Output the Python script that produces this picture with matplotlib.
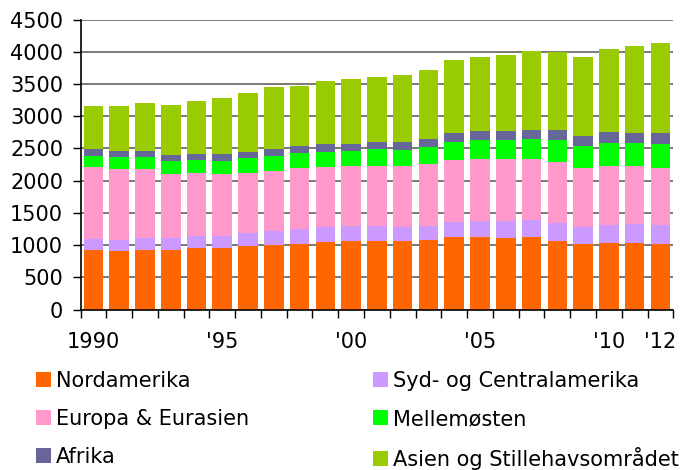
import matplotlib
matplotlib.use("Agg")
import matplotlib.pyplot as plt
from matplotlib.patches import Patch
import numpy as np

plt.rcParams['font.family'] = ['DejaVu Sans']

years = list(range(1990, 2013))
year_labels = ['1990', '', '', '', '', "'95", '', '', '', '', "'00", '', '', '', '', "'05",
               '', '', '', '', "'10", '', "'12"]

series_names = ['Nordamerika', 'Syd- og Centralamerika', 'Europa & Eurasien',
                'Mellemøsten', 'Afrika', 'Asien og Stillehavsområdet']

nordamerika = [921, 906, 921, 921, 952, 952, 983, 999, 1014, 1045, 1061, 1061, 1061,
               1076, 1123, 1123, 1107, 1123, 1061, 1014, 1030, 1030, 1014]
syd_central = [171, 176, 192, 192, 192, 192, 202, 217, 233, 233, 233, 233, 217,
               218, 238, 248, 264, 264, 279, 264, 279, 295, 295]
europa = [1118, 1097, 1066, 993, 973, 962, 932, 932, 947, 932, 931, 931, 947,
          962, 957, 963, 963, 947, 947, 916, 916, 900, 885]
mellemosten = [171, 186, 186, 197, 201, 197, 232, 233, 233, 233, 233, 264, 249,
               264, 280, 295, 295, 310, 342, 342, 357, 357, 373]
afrika = [108, 93, 93, 93, 94, 109, 94, 108, 109, 124, 109, 109, 124,
          124, 140, 140, 140, 140, 155, 155, 171, 156, 171]
asien = [668, 699, 745, 776, 822, 869, 916, 963, 931, 978, 1009, 1009, 1040,
         1072, 1133, 1148, 1180, 1227, 1211, 1226, 1289, 1350, 1397]

colors = ['#FF6600', '#CC99FF', '#FF99CC', '#00FF00', '#666699', '#99CC00']

fig = plt.figure(figsize=(6.9, 4.7), dpi=100)
ax = fig.add_axes([80.5/690, 1 - 309.5/470, 592.8/690, 290/470])

x = np.arange(len(years))
bottom = np.zeros(len(years))
handles = []
for name, vals, c in zip(series_names,
                         [nordamerika, syd_central, europa, mellemosten, afrika, asien],
                         colors):
    ax.bar(x, vals, width=0.76, bottom=bottom, color=c, zorder=3, label=name)
    bottom += np.array(vals)
    handles.append(Patch(facecolor=c, edgecolor='none'))

ax.set_xlim(-0.5, len(years) - 0.5)
ax.set_ylim(0, 4500)
ax.set_yticks(np.arange(0, 4501, 500))
ax.yaxis.grid(True, color='#7a7a7a', linewidth=1.4, zorder=0)
ax.set_axisbelow(True)

ax.set_xticks(np.arange(-0.5, len(years), 1.0))
ax.set_xticklabels([])
ax.set_xticks(x, minor=True)
ax.set_xticklabels(year_labels, minor=True)
ax.tick_params(axis='x', which='major', direction='out', length=5.5, width=1, color='black')
ax.tick_params(axis='x', which='minor', length=0, pad=16, labelsize=15)
ax.tick_params(axis='y', direction='out', length=5.5, width=1, pad=7, labelsize=15)

for s in ['top', 'right']:
    ax.spines[s].set_visible(False)
for s in ['left', 'bottom']:
    ax.spines[s].set_color('black')
    ax.spines[s].set_linewidth(1.2)
    ax.spines[s].set_zorder(4)

leg_kw = dict(frameon=False, fontsize=15, handlelength=0.72, handleheight=0.72,
              handletextpad=0.25, labelspacing=0.86, borderpad=0, borderaxespad=0,
              loc='upper left')
order1 = [0, 2, 4]
order2 = [1, 3, 5]
fig.legend([handles[i] for i in order1], [series_names[i] for i in order1],
           bbox_to_anchor=(36/690, 1 - 371/470), **leg_kw)
fig.legend([handles[i] for i in order2], [series_names[i] for i in order2],
           bbox_to_anchor=(373/690, 1 - 371/470), **leg_kw)

fig.savefig('out.png', dpi=100)
